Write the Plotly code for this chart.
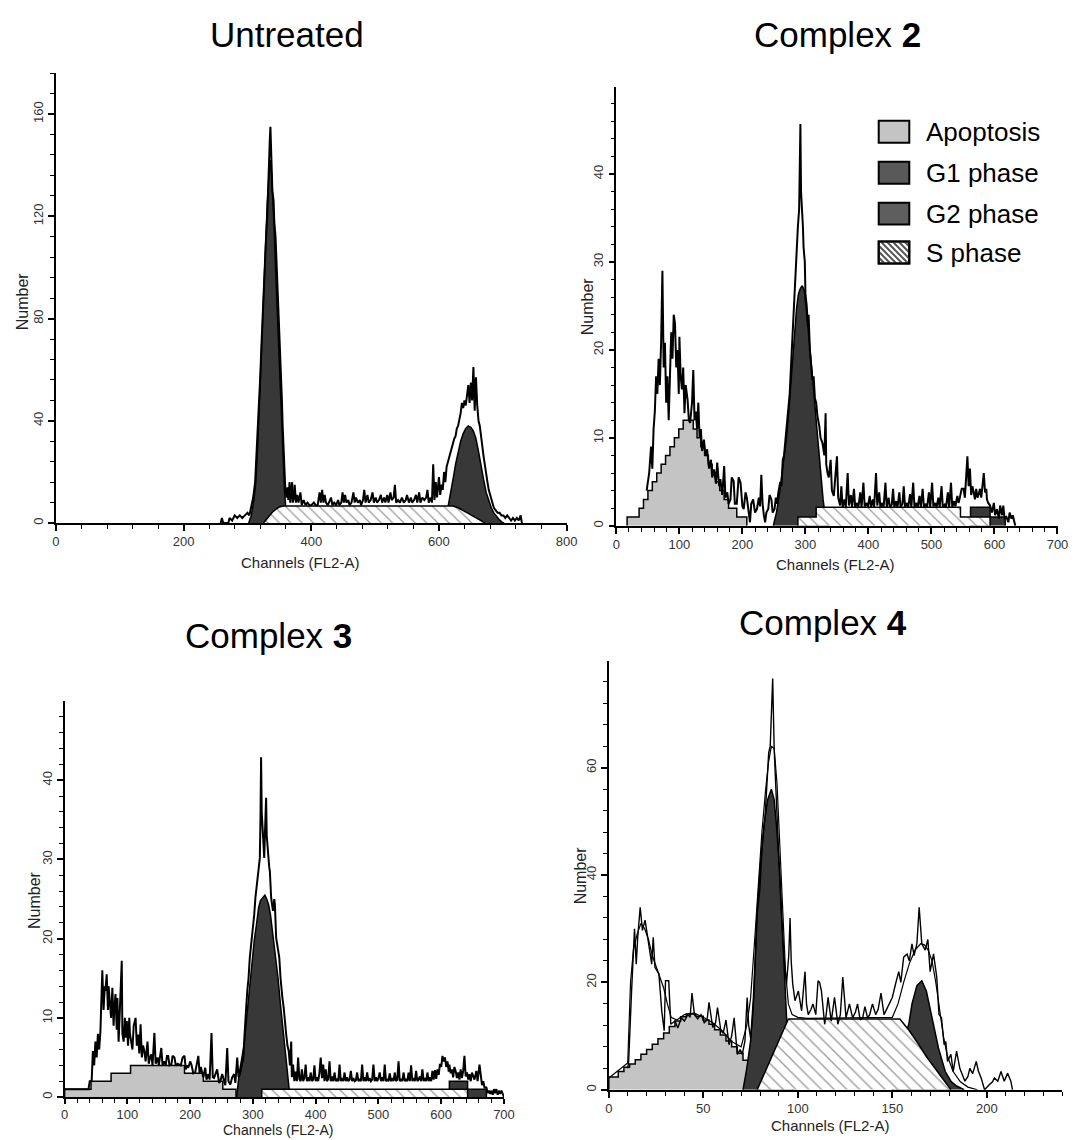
import plotly.graph_objects as go

# ---------------------------------------------------------------- data
# (channel, count) pairs

untreated_raw = [(258,0),(260,2),(262,0),(270,0),(272,2),(276,1),(280,3),(284,2),(288,3),(292,2),(296,3),(300,4),
 (303,3),(306,6),(309,10),(312,16),(315,30),(318,45),(320,57),(322,70),(325,90),(327,102),(329,111),(331,120),
 (332,130),(334,140),(335,150),(336,155),(337,142),(338,132),(339,130),(341,126),(342,118),(344,112),(346,100),
 (348,88),(350,75),(352,64),(354,48),(355,39),(357,22),(359,15),(361,10),(363,14),(364,9),(366,16),(367,8),
 (369,12),(370,16),(371,8),(373,10),(374,15),(376,8),(378,11),(380,8),(383,12),(385,7),(388,9),(391,7),(394,8),
 (397,7),(400,7),(404,8),(407,7),(410,7),(413,12),(415,8),(417,13),(419,8),(421,11),(423,8),(426,7),(428,8),
 (431,10),(433,7),(436,8),(439,7),(442,9),(444,7),(447,8),(449,12),(451,8),(453,11),(455,8),(458,9),(460,7),
 (463,8),(466,12),(468,8),(470,10),(473,8),(476,9),(478,7),(481,9),(483,13),(485,8),(488,11),(490,8),(493,9),
 (496,12),(498,8),(501,10),(503,8),(506,9),(509,11),(511,8),(514,10),(516,8),(519,11),(521,8),(524,12),(526,9),
 (529,10),(531,15),(533,8),(536,9),(539,8),(542,10),(545,8),(548,9),(550,11),(553,8),(556,10),(558,8),(561,9),
 (564,11),(566,8),(569,12),(571,8),(574,10),(577,9),(580,10),(582,13),(584,8),(587,10),(589,8),(591,23),(593,9),
 (595,16),(597,10),(600,18),(602,11),(604,15),(606,13),(608,20),(610,16),(612,22),(614,24),(616,25),(618,28),
 (620,29),(622,31),(624,33),(626,34),(628,37),(630,38),(632,40),(634,43),(636,47),(638,45),(640,48),(642,46),
 (644,50),(646,54),(648,47),(650,55),(652,48),(654,61),(656,44),(658,57),(660,46),(662,40),(664,38),(666,33),
 (668,30),(670,26),(672,22),(674,19),(676,16),(678,13),(680,11),(683,8),(686,6),(689,5),(692,4),(695,4),(698,3),
 (701,3),(704,2),(707,3),(710,2),(713,1),(716,2),(719,1),(722,2),(725,1),(728,3),(730,0)]
untreated_g1 = [(302,0),(306,3),(310,9),(313,16),(316,30),(319,48),(322,68),(325,88),(328,108),(331,125),(334,137),
 (336,142),(338,136),(340,126),(342,114),(344,100),(347,80),(350,60),(353,40),(356,22),(358,13),(360,6),(362,2),(364,0)]
untreated_g2 = [(606,0),(610,2),(614,6),(618,11),(622,17),(626,23),(630,28),(634,32),(638,35),(642,37),(646,38),
 (650,37.5),(654,36),(658,33),(662,28),(666,22),(670,17),(674,12),(678,9),(682,6),(686,4),(690,2.5),(694,1.5),
 (698,0.5),(702,0)]
untreated_s = [(325,0),(330,1.5),(335,3),(340,4.5),(345,5.5),(350,6.3),(356,6.7),(622,6.7),(630,6.0),(638,5.0),
 (646,3.8),(654,2.6),(662,1.5),(668,0.6),(673,0)]

c2_raw = [(48,4),(52,6),(55,9),(57,6.5),(59,11),(61,13),(63,17),(65,15),(67,19),(69,16),(71,21),(73,29),(75,18),
 (77,20.8),(79,14),(81,17),(83,12),(85,17),(87,22),(89,19),(91,24),(93,23),(95,18),(97,20),(99,15),(100,21.5),
 (102,17),(104,15.5),(106,18),(108,12.8),(110,16),(113,14.3),(115,12),(117,11.7),(120,14),(122,17.7),(124,12),
 (126,13),(128,11),(130,14),(132,10),(134,11),(136,8.5),(139,9.8),(141,8),(144,8.7),(147,6.5),(150,7.5),(152,5.5),
 (155,6.4),(158,4.8),(160,7.2),(163,4.5),(165,5.3),(168,3.5),(171,6.8),(173,3.2),(176,3.8),(178,2.5),(181,3),
 (183,5.5),(186,5.1),(188,2.5),(191,2.5),(194,5.5),(197,4.9),(200,2.2),(202,1.9),(205,3.8),(207,3.2),(210,1.5),
 (212,0.4),(214,2.5),(217,3),(220,1.5),(223,1.9),(226,3.2),(228,2.2),(230,5.8),(232,2.5),(234,1.2),(236,0.4),
 (238,1.5),(241,1.9),(243,3.5),(246,3),(248,1.5),(251,1.9),(253,3.2),(255,2.5),(257,3.8),(260,5),(262,4.5),
 (264,7.5),(266,8),(268,9.5),(270,11.3),(272,12.5),(275,15),(277,18),(280,22.6),(282,24),(284,28.3),(286,30),
 (288,34),(290,36),(291,40),(292,45.7),(293,38),(295,35.8),(296,34),(297,31.7),(299,30),(300,26.4),(302,25),
 (304,22.6),(305,24),(307,20),(309,18.5),(311,16.6),(313,17),(315,14.5),(317,14),(319,12.5),(322,11.3),(324,10),
 (327,9.4),(330,8),(332,12.8),(333,7),(335,6),(337,5.5),(340,7.5),(342,4),(345,3.4),(347,5),(350,7.9),(352,3.2),
 (355,2.3),(357,4.5),(359,2.1),(362,3),(364,2.1),(367,6),(369,2.3),(372,3.5),(374,2.1),(377,4.2),(379,2.1),
 (382,2.6),(384,2.1),(387,3.8),(389,2.1),(392,4.9),(394,2.2),(397,2.6),(399,2.1),(402,3.4),(404,2.1),(407,3),
 (409,2.1),(412,6),(414,2.3),(417,3.8),(419,2.1),(422,2.6),(424,2.1),(427,4.9),(429,2.1),(432,3.2),(434,2.1),
 (437,2.4),(439,4.2),(441,2.1),(444,2.8),(446,2.1),(449,3.8),(451,2.1),(454,2.5),(456,4.5),(458,2.1),(461,2.6),
 (463,2.1),(466,3.6),(468,2.1),(471,4.9),(473,2.1),(476,2.6),(478,2.1),(481,3.4),(483,2.1),(486,4.2),(488,2.1),
 (491,2.5),(493,2.1),(496,3.8),(498,2.1),(501,4.9),(503,2.2),(506,2.6),(508,2.1),(511,3.2),(513,2.1),(516,4.5),
 (518,2.1),(521,2.4),(523,2.1),(526,3.8),(528,2.1),(531,4.9),(533,2.1),(536,2.8),(538,2.2),(541,3.4),(543,2.6),
 (545,3.2),(548,4.2),(551,4.2),(553,3.2),(555,5.5),(557,7.9),(559,4.5),(561,6.5),(563,3.5),(565,4.5),(567,3.8),
 (569,3),(571,4.2),(573,3.2),(575,3.6),(577,4.2),(579,3.2),(581,5),(583,6),(585,3.8),(587,4.2),(588,3),(590,2.6),
 (593,2.3),(596,1.5),(599,2.6),(601,1.2),(604,1.9),(607,0.8),(609,2.3),(612,1.2),(614,2.3),(616,0.8),(619,1),
 (622,0.4),(624,1.5),(627,0.8),(629,1.2),(632,0.4),(633,0)]
c2_apop = [(17,0),(17,1),(36,2),(43,3),(50,4),(57,5),(64,6),(71,7),(78,8),(85,9),(92,10),(99,11),(106,12),(122,11),
 (128,10),(134,9),(140,8),(146,7),(152,6),(158,5),(164,4),(171,3),(178,2),(191,1),(207,0)]
c2_g1 = [(249,0),(254,1.5),(259,3.8),(264,6.5),(270,10),(274,13.5),(277,16.6),(280,19.5),(283,22.6),(286,24.8),
 (289,26.4),(292,27),(295,27.3),(298,26.8),(301,25),(305,22),(309,19),(313,15.5),(317,12),(321,8.5),(324,5.7),
 (328,3),(332,0.8),(335,0)]
c2_g2 = [(562,0),(562,2.1),(593,1.0),(617,0)]
c2_s = [(288,0),(288,1),(317,2.1),(546,1),(593,0)]

c3_raw = [(0,1),(38,1),(40,2),(43,2),(45,5.8),(47,4),(49,7),(51,5),(53,8),(55,6),(57,8.3),(59,12),(60,16),(62,11),
 (64,14),(65,13.4),(67,15.5),(69,11),(70,14),(72,12),(74,10),(76,13.8),(78,9),(79,10.9),(81,13),(83,8.5),(84,12.5),
 (86,7),(87,9.2),(89,11),(91,17.2),(92,8),(94,7),(96,10),(97,7.5),(99,9.6),(101,6.5),(103,10),(104,8),(106,7),
 (108,6),(110,9),(113,10),(115,6.5),(117,7.9),(119,5.5),(121,9.2),(123,5),(125,6.5),(127,5.8),(129,4.5),(132,7),
 (134,4.2),(136,5),(138,5.4),(140,4),(143,8.1),(145,4.2),(148,5),(150,4),(152,5.4),(154,6.2),(156,4),(159,4.5),
 (161,4),(163,5.2),(165,5.2),(167,4),(170,4.1),(172,5.2),(175,5),(177,4),(180,4.2),(183,4.1),(185,4),(188,5),
 (191,5.2),(193,3.5),(195,4),(197,3.7),(200,4.5),(202,4.1),(205,3),(208,3.1),(210,4),(213,5.2),(215,3),(217,3.8),
 (219,3.1),(221,2.5),(224,3.7),(226,2.2),(229,2.9),(231,2.2),(234,8.1),(236,2.5),(238,2.4),(241,3),(243,3.5),
 (246,1.8),(248,2),(251,2.9),(254,2.2),(256,1.5),(259,6.2),(261,2),(264,1.6),(267,2.5),(270,2.9),(272,1.8),
 (275,5),(277,2.5),(279,2.8),(281,3.7),(283,4.5),(285,5),(286,7),(288,9),(289,11),(291,13.4),(293,15),(295,17.6),
 (297,19),(298,20),(300,21.8),(302,23),(304,25.2),(306,26.5),(308,28.1),(310,29),(311,30.2),(312,35),(313,42.9),
 (314,36),(316,33.6),(317,31),(318,30.2),(319,33),(320,35),(321,37.8),(322,33),(324,30.2),(326,29),(327,28.5),
 (328,26),(329,25.2),(331,24),(332,23.5),(334,25),(335,24.3),(337,20.1),(339,19),(340,18.5),(342,17.6),(344,15),
 (345,13.8),(347,12.5),(349,11.3),(351,9),(353,7.9),(355,6.5),(357,5.8),(359,4),(361,7),(362,2.5),(364,4.1),
 (366,2),(368,3.2),(370,2),(372,5),(374,2.3),(376,2),(378,3.5),(380,2),(382,2.4),(384,4.1),(386,2),(388,2.5),
 (390,2),(392,3.1),(394,2),(396,2.2),(398,4),(400,2),(402,2.5),(404,2),(406,3.1),(408,5),(410,2.4),(412,4.1),
 (414,2),(416,3.5),(418,2),(420,2.3),(422,4.5),(424,2),(426,2.6),(428,2),(430,3.1),(432,2),(434,2.2),(436,2),
 (438,4.1),(440,2),(442,2.4),(444,2),(446,3.1),(448,2),(450,2.5),(452,2),(454,2.2),(456,3.3),(458,2),(460,2.4),
 (462,2),(464,2.1),(466,3.1),(468,2),(470,2.3),(472,2),(474,4.1),(476,2),(478,2.5),(480,2),(482,3.1),(484,2),
 (486,2.4),(488,2),(490,2.2),(492,4.1),(494,2),(496,2.5),(498,2),(500,2.4),(502,3.1),(504,2),(506,2.5),(508,2),
 (510,4.1),(512,2),(514,2.3),(516,2),(518,3),(520,2),(522,2.4),(524,2),(526,3.1),(528,2),(530,2.2),(532,4.5),
 (534,2),(536,2.3),(538,2),(540,3.1),(542,2),(544,2.3),(546,2),(548,3.1),(550,2),(552,4),(554,2),(556,2.4),
 (558,2),(560,3.3),(562,2),(564,2.2),(566,2.6),(568,2),(570,3.5),(572,2),(574,2.4),(576,2),(578,3.1),(580,2),
 (582,2.5),(584,2),(586,3.3),(588,2.2),(590,3.4),(592,2.3),(594,3.5),(596,2.8),(598,4.2),(600,3.8),(602,5.2),
 (604,4.5),(606,5),(608,3.8),(610,4.5),(612,3.2),(613,4.1),(615,3),(617,3.5),(619,2.5),(621,3.8),(623,3.3),
 (625,2.4),(627,3.1),(629,2.2),(631,3.5),(633,2.4),(635,3.3),(637,5.2),(639,2.6),(641,3.1),(643,2.2),(645,2.9),
 (647,2),(649,3.1),(651,2.5),(653,2.2),(656,3.3),(658,2),(661,4.1),(663,2.4),(665,1.5),(667,2),(669,1.2),
 (672,1.2),(674,0.5),(676,0.8),(678,0.4),(680,0.8),(682,0.3),(684,1),(686,0.5),(688,1),(690,0.3),(692,0.8),
 (694,0.4),(696,0.8),(698,0.5),(700,0)]
c3_apop = [(0,0),(0,1),(42,2),(74,3),(105,4),(191,3),(221,2),(252,1),(273,0)]
c3_g1 = [(274,0),(278,2.9),(282,4.8),(286,6.7),(290,10),(294,13.4),(298,16.8),(302,19.7),(306,22),(309,23.9),
 (312,24.8),(316,25.2),(319,25.5),(322,25),(325,24.3),(328,23),(332,20.5),(336,18),(340,15),(344,11.6),(348,8.3),
 (352,5),(355,2.9),(359,0)]
c3_g2 = [(613,0),(613,2),(642,1),(672,0)]
c3_s = [(314,0),(314,1),(642,0)]

c4_raw = [(10,4),(10.5,5.3),(12,18),(12.6,22),(13.6,30),(14.5,23.4),(15.3,28.4),(16.6,34),(17.8,29.7),(19.2,31.6),
 (21,27),(22.7,23.4),(23.5,28.4),(24.4,22.8),(26.5,21.6),(28,14.7),(29.3,11),(30,20.3),(31.7,20.3),(32.8,12.2),
 (35,12.8),(36.5,11.5),(38.4,13.4),(40,12.8),(41.8,14),(43,13.5),(44,18),(45.3,14),(47,13.2),(48.8,14),(50.5,12.5),
 (52,13),(53,16.3),(55,11.6),(56.5,12.5),(57.5,15.3),(59.3,11),(60.5,10.5),(62,13),(63.6,8.4),(65,10),(66.3,13.4),
 (68,6.6),(69.5,7.5),(70.6,6.6),(72,9),(73.2,17.2),(74,12),(75,9.7),(76,13),(76.7,17.2),(77.5,24),(78.5,32.8),
 (79.9,37.2),(81,44.7),(82.8,51.6),(84,58),(84.6,62.8),(85.4,64),(86.7,76.6),(87.5,63.4),(88.6,53.4),(89.8,44),
 (91,34.7),(92.4,26),(94,19.7),(95.2,25),(95.9,32),(96.5,24),(97.3,19.7),(98.5,16.6),(100.3,18.4),(102,14.7),
 (103.8,22),(104.6,16),(105.5,14),(107,15),(108,16),(109.5,14),(110.7,20.3),(111.5,20),(112.5,18.4),(114.2,12.2),
 (115,14),(116,17.2),(117.7,12.8),(119.4,17.2),(121.2,12.2),(122.5,14),(123.8,21),(125.5,13.4),(127.3,16),
 (129,13.4),(130.5,14.5),(131.6,16),(133,13),(134.3,13.4),(135.5,15.5),(136.9,13.4),(138,14),(139.5,16),
 (141.2,14),(142.5,15),(144,18),(145.6,14),(147,15),(148.2,16),(150,17.2),(151.7,19.7),(153.4,22),(154.5,20),
 (156,24.7),(157.8,25.3),(159,24),(160.4,27.2),(161.5,25),(163,27.2),(164.2,34),(165.6,27.2),(167.4,26),
 (168.8,28),(170,22),(171.8,25.3),(173.5,21),(174.7,14),(176,13.4),(177.4,8.4),(178.3,9),(179.2,5.3),(181,6.6),
 (182.2,3.4),(184,7.2),(185.7,4),(187,3),(188.4,1.6),(190,2.5),(191,4),(192.5,3),(194.4,5.3),(195.5,3.5),
 (197,2.2),(198.8,0),(200,0.5),(201.4,1),(203,1.5),(204,2.2),(205.8,1.6),(207.5,3.4),(209.2,1.6),(211,3.1),
 (212.7,1.6),(213.6,0)]
c4_model = [(0,2.2),(10,5),(11.5,20),(13,26),(15,29),(17,31),(19,30),(21,28),(23,25),(25,23),(27,21),(29,19),
 (31,16),(33,13.5),(36,13),(40,14),(45,14.3),(50,13.5),(55,12.5),(60,11),(65,9),(70,8),(73,12),(75,17),(77,27),
 (79,38),(81,48),(83,56),(84.5,61),(86,64),(87.5,63.5),(89,57),(90.5,46),(92,33),(93.5,22),(95,16),(97,14),
 (100,13.5),(105,13.3),(150,13.5),(153,16),(156,20),(159,23.5),(162,26),(165,27.2),(167,27),(169,26),(171,24),
 (173,20),(175,15),(177,10),(179,6.5),(182,3.5),(186,1.5),(190,0.5),(195,0)]
c4_apop = [(0,0),(0,2.4),(5,3.4),(8,4.2),(11,4.8),(14,5.6),(17,6.6),(20,7.5),(23,8.5),(26,9.5),(29,10.6),(32,11.8),
 (35,12.8),(38,13.6),(41,14.1),(46,13.7),(50,13.0),(53,12.2),(56,11.2),(59,10.2),(62,9.1),(65,8.0),(68,6.8),
 (71,5.5),(74,4.2),(77,2.5),(80,0)]
c4_g1 = [(71,0),(73,4),(75,9),(76.5,17),(77.5,25),(78.5,33),(80,41),(82,49),(84,54),(86,56),(87.5,54),(89,48),
 (90.5,40),(91.5,33),(92.5,25),(93.5,17),(94.5,10),(96,4),(97.5,0)]
c4_g2 = [(150,0),(155,8),(158.7,12.2),(160.4,16),(163,19.4),(165.6,20.3),(168,18.4),(171,13.4),(174.4,7.8),
 (178,3.4),(181,1.6),(184,0.7),(188,0)]
c4_s = [(78.5,0),(95,13.2),(154,13.2),(159,11),(164,8.4),(168,6.2),(172.6,4),(177,1.8),(181,0)]

panel_titles = ["Untreated", "Complex <b>2</b>", "Complex <b>3</b>", "Complex <b>4</b>"]
legend_labels = ["Apoptosis", "G1 phase", "G2 phase", "S phase"]
x_title = "Channels (FL2-A)"
y_title = "Number"

# ---------------------------------------------------------------- layout constants
W, H = 1083, 1140
FONT = "Liberation Sans, Arial, Helvetica, sans-serif"
GRAY = "#c4c4c4"
DARK = "#383838"

def fx(px):
    return px / W

def fy(py):
    return 1 - py / H

panels = [
    dict(px0=52.7, px1=570.5, xr=800, py0=524.0, py1=73.3, yr=176, xd=200, xm=40, yd=40, ym=8,
         title=(287, 35), xt=(300, 563), xts=15, yt=(19, 302), hatch=8,
         series=dict(g1=untreated_g1, g2=untreated_g2, s=untreated_s, raw=untreated_raw)),
    dict(px0=621.0, px1=1068.3, xr=700, py0=526.7, py1=86.7, yr=49.95, xd=100, xm=20, yd=10, ym=2,
         title=(845, 35), xt=(843, 565), xts=15, yt=(592, 307), hatch=8, step_s=True, step_g2=True,
         series=dict(apop=c2_apop, g1=c2_g1, g2=c2_g2, s=c2_s, raw=c2_raw)),
    dict(px0=61.5, px1=507.0, xr=700, py0=1099.0, py1=702.7, yr=49.95, xd=100, xm=20, yd=10, ym=2,
         title=(268, 637), xt=(278, 1131.5), xts=14, yt=(31, 902), hatch=8, step_s=True, step_g2=True,
         series=dict(apop=c3_apop, g1=c3_g1, g2=c3_g2, s=c3_s, raw=c3_raw)),
    dict(px0=613.3, px1=1073.3, xr=240, py0=1091.7, py1=661.7, yr=79.95, xd=50, xm=10, yd=20, ym=4,
         title=(830, 624), xt=(838, 1127), xts=15, yt=(585, 877), hatch=9,
         series=dict(apop=c4_apop, g1=c4_g1, g2=c4_g2, s=c4_s, model=c4_model, raw=c4_raw)),
]

fig = go.Figure()
layout = dict(width=W, height=H, margin=dict(l=0, r=0, t=0, b=0), paper_bgcolor="white",
              plot_bgcolor="rgba(0,0,0,0)", showlegend=False, font=dict(family=FONT, color="#222"))
annotations = []
shapes = []

def unzip(pts):
    return [p[0] for p in pts], [p[1] for p in pts]

for i, p in enumerate(panels, start=1):
    sfx = "" if i == 1 else str(i)
    xa, ya = "x" + sfx, "y" + sfx
    tick_common = dict(showline=True, linecolor="black", linewidth=1.5, ticks="outside",
                       tickwidth=1.5, tickcolor="black", showgrid=False, zeroline=False,
                       tickfont=dict(size=13, color="#333", family=FONT), tick0=0)
    layout["xaxis" + sfx] = dict(domain=[fx(p["px0"]), fx(p["px1"])], range=[0, p["xr"]], dtick=p["xd"],
                                 anchor=ya, ticklen=5 if i == 3 else 6,
                                 minor=dict(ticks="outside", dtick=p["xm"], ticklen=4, tickwidth=1.3,
                                            tickcolor="black", showgrid=False), **tick_common)
    layout["yaxis" + sfx] = dict(domain=[fy(p["py0"]), fy(p["py1"])], range=[0, p["yr"]], dtick=p["yd"],
                                 anchor=xa, tickangle=-90, ticklen=6,
                                 minor=dict(ticks="outside", dtick=p["ym"], ticklen=4, tickwidth=1.3,
                                            tickcolor="black", showgrid=False), **tick_common)
    s = p["series"]
    common = dict(xaxis=xa, yaxis=ya, mode="lines", hoverinfo="skip", showlegend=False)
    if "apop" in s:
        x, y = unzip(s["apop"])
        fig.add_trace(go.Scatter(x=x, y=y, fill="tozeroy", fillcolor=GRAY,
                                 line=dict(color="black", width=1.5, shape="hv"), **common))
    x, y = unzip(s["g1"])
    fig.add_trace(go.Scatter(x=x, y=y, fill="tozeroy", fillcolor=DARK,
                             line=dict(color="black", width=1.5), **common))
    x, y = unzip(s["g2"])
    fig.add_trace(go.Scatter(x=x, y=y, fill="tozeroy", fillcolor=DARK,
                             line=dict(color="black", width=1.5, shape="hv" if p.get("step_g2") else "linear"),
                             **common))
    x, y = unzip(s["s"])
    fig.add_trace(go.Scatter(x=x, y=y, fill="tozeroy", fillcolor="white",
                             fillpattern=dict(shape="\\", fgcolor="#333", bgcolor="white", size=p["hatch"],
                                              solidity=0.15),
                             line=dict(color="black", width=1.5, shape="hv" if p.get("step_s") else "linear"),
                             **common))
    if "model" in s:
        x, y = unzip(s["model"])
        fig.add_trace(go.Scatter(x=x, y=y, line=dict(color="black", width=1.2), **common))
    x, y = unzip(s["raw"])
    fig.add_trace(go.Scatter(x=x, y=y, line=dict(color="black", width=1.4 if i == 4 else 2.0), **common))

    annotations.append(dict(text=panel_titles[i - 1], x=fx(p["title"][0]), y=fy(p["title"][1]),
                            xref="paper", yref="paper", showarrow=False, xanchor="center", yanchor="middle",
                            font=dict(size=35, color="black", family=FONT)))
    annotations.append(dict(text=x_title, x=fx(p["xt"][0]), y=fy(p["xt"][1]), xref="paper", yref="paper",
                            showarrow=False, xanchor="center", yanchor="middle",
                            font=dict(size=p["xts"], color="#222", family=FONT)))
    annotations.append(dict(text=y_title, x=fx(p["yt"][0]), y=fy(p["yt"][1]), xref="paper", yref="paper",
                            showarrow=False, xanchor="center", yanchor="middle", textangle=-90,
                            font=dict(size=16, color="#222", family=FONT)))

# legend (drawn in panel 2)
legend_fill = [GRAY, "#595959", "#5e5e5e", "white"]
legend_rows = [132, 173, 214, 253]
bx0, bx1, bh = 887, 918, 22
for lab, col, cy in zip(legend_labels, legend_fill, legend_rows):
    top, bot = cy - bh / 2, cy + bh / 2
    shapes.append(dict(type="rect", xref="paper", yref="paper", x0=fx(bx0), x1=fx(bx1), y0=fy(bot), y1=fy(top),
                       fillcolor=col, line=dict(color="black", width=2), layer="above"))
    if lab == "S phase":
        h = bot - top
        c = -h
        while c < (bx1 - bx0):
            ys = top + max(0, -c)
            ye = min(bot, top + (bx1 - bx0 - c))
            if ye > ys:
                shapes.append(dict(type="line", xref="paper", yref="paper",
                                   x0=fx(bx0 + c + (ys - top)), y0=fy(ys), x1=fx(bx0 + c + (ye - top)), y1=fy(ye),
                                   line=dict(color="#555", width=2), layer="above"))
            c += 6
        shapes.append(dict(type="rect", xref="paper", yref="paper", x0=fx(bx0), x1=fx(bx1), y0=fy(bot), y1=fy(top),
                           fillcolor="rgba(0,0,0,0)", line=dict(color="black", width=2), layer="above"))
    annotations.append(dict(text=lab, x=fx(933), y=fy(cy), xref="paper", yref="paper", showarrow=False,
                            xanchor="left", yanchor="middle", font=dict(size=26, color="black", family=FONT)))

layout["annotations"] = annotations
layout["shapes"] = shapes
fig.update_layout(**layout)
fig.write_html("out.html", config={"displayModeBar": False},
               post_script="document.body.style.margin='0';document.body.style.overflow='hidden';")
